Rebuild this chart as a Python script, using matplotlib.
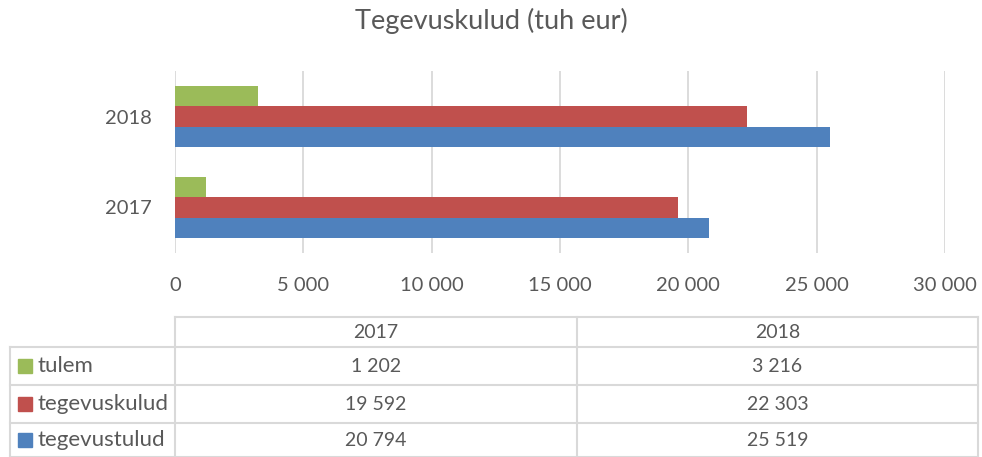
import numpy as np
import matplotlib.pyplot as plt
from matplotlib.patches import Rectangle

plt.rcParams['font.family'] = ['Lato', 'DejaVu Sans']

years = ['2017', '2018']
series_names = ['tulem', 'tegevuskulud', 'tegevustulud']
tulem = [1202, 3216]
tegevuskulud = [19592, 22303]
tegevustulud = [20794, 25519]
series_colors = ['#9BBB59', '#C0504D', '#4F81BD']
x_ticks = [0, 5000, 10000, 15000, 20000, 25000, 30000]

text_col = '#595959'
grid_col = '#D9D9D9'
W, H = 982, 457


def fmt(v):
    return f'{v:,}'.replace(',', ' ')


fig = plt.figure(figsize=(W / 100, H / 100), dpi=100)

# chart area in pixels
ax_l, ax_r, ax_t, ax_b = 175, 945, 71, 253
ax = fig.add_axes([ax_l / W, 1 - ax_b / H, (ax_r - ax_l) / W, (ax_b - ax_t) / H])

y = np.arange(len(years))
h = 0.22
values = [tulem, tegevuskulud, tegevustulud]
offsets = [h, 0, -h]
for vals, col, off in zip(values, series_colors, offsets):
    ax.barh(y + off, vals, height=h, color=col, zorder=3)

ax.set_xlim(0, 30000)
ax.set_ylim(-0.5, 1.5)
ax.set_xticks(x_ticks)
ax.set_xticklabels([fmt(t) for t in x_ticks])
ax.set_yticks(y)
ax.set_yticklabels(years)
ax.tick_params(length=0, labelsize=14.5, labelcolor=text_col)
ax.tick_params(axis='x', pad=17)
ax.tick_params(axis='y', pad=16.5)
ax.grid(axis='x', color=grid_col, linewidth=1.3, zorder=0)
for s in ax.spines.values():
    s.set_visible(False)

fig.text(0.5, 1 - 21 / H, 'Tegevuskulud (tuh eur)', ha='center', va='center',
         fontsize=19.5, color=text_col)

# data table drawn in pixel coordinates
tab = fig.add_axes([0, 0, 1, 1])
tab.set_xlim(0, W)
tab.set_ylim(H, 0)
tab.axis('off')

col_x = [10, 175, 577, 978]
row_y = [317, 347, 385, 423, 457]
lw = 1.5
# horizontal lines
tab.plot([col_x[1], col_x[3]], [row_y[0]] * 2, color=grid_col, lw=lw)
for ry in row_y[1:]:
    tab.plot([col_x[0], col_x[3]], [ry] * 2, color=grid_col, lw=lw)
# vertical lines
tab.plot([col_x[0]] * 2, [row_y[1], row_y[4]], color=grid_col, lw=lw)
for cx in col_x[1:]:
    tab.plot([cx] * 2, [row_y[0], row_y[4]], color=grid_col, lw=lw)

fs = 14
for j, yr in enumerate(years):
    tab.text((col_x[j + 1] + col_x[j + 2]) / 2, (row_y[0] + row_y[1]) / 2, yr,
             ha='center', va='center', fontsize=fs, color=text_col)

for i, (name, vals, col) in enumerate(zip(series_names, values, series_colors)):
    cy = (row_y[i + 1] + row_y[i + 2]) / 2
    tab.add_patch(Rectangle((18, cy - 7), 14, 14, color=col))
    tab.text(38, cy, name, ha='left', va='center', fontsize=16, color=text_col)
    for j in range(len(years)):
        tab.text((col_x[j + 1] + col_x[j + 2]) / 2, cy, fmt(vals[j]),
                 ha='center', va='center', fontsize=fs, color=text_col)

fig.savefig('out.png', dpi=100)
